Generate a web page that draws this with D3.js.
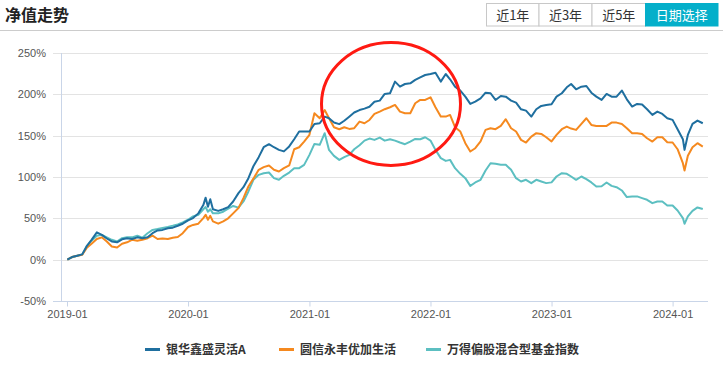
<!DOCTYPE html>
<html><head><meta charset="utf-8">
<script src="https://cdn.jsdelivr.net/npm/d3@7/dist/d3.min.js"></script>
<style>
html,body{margin:0;padding:0;background:#fff;}
svg{display:block;}
</style></head>
<body>
<svg id="chart" width="723" height="365"></svg>
<script>
const dates = ["2019-01-02","2019-01-16","2019-02-01","2019-02-16","2019-03-01","2019-03-16","2019-04-01","2019-04-16","2019-05-01","2019-05-16","2019-06-01","2019-06-16","2019-07-01","2019-07-16","2019-08-01","2019-08-16","2019-09-01","2019-09-16","2019-10-01","2019-10-16","2019-11-01","2019-11-16","2019-12-01","2019-12-16",
"2020-01-01","2020-01-16","2020-02-01","2020-02-16","2020-02-23","2020-03-01","2020-03-08","2020-03-16","2020-04-01","2020-04-16","2020-05-01","2020-05-16","2020-06-01","2020-06-16","2020-07-01","2020-07-16","2020-08-01","2020-08-16","2020-09-01","2020-09-16","2020-10-01","2020-10-16","2020-11-01","2020-11-16","2020-12-01","2020-12-16",
"2021-01-01","2021-01-16","2021-02-01","2021-02-16","2021-03-01","2021-03-16","2021-04-01","2021-04-16","2021-05-01","2021-05-16","2021-06-01","2021-06-16","2021-07-01","2021-07-16","2021-08-01","2021-08-16","2021-09-01","2021-09-16","2021-10-01","2021-10-16","2021-11-01","2021-11-16","2021-12-01","2021-12-16",
"2022-01-01","2022-01-16","2022-02-01","2022-02-16","2022-03-01","2022-03-16","2022-04-01","2022-04-16","2022-05-01","2022-05-16","2022-06-01","2022-06-16","2022-07-01","2022-07-16","2022-08-01","2022-08-16","2022-09-01","2022-09-16","2022-10-01","2022-10-16","2022-11-01","2022-11-16","2022-12-01","2022-12-16",
"2023-01-01","2023-01-16","2023-02-01","2023-02-16","2023-03-01","2023-03-16","2023-04-01","2023-04-16","2023-05-01","2023-05-16","2023-06-01","2023-06-16","2023-07-01","2023-07-16","2023-08-01","2023-08-16","2023-09-01","2023-09-16","2023-10-01","2023-10-16","2023-11-01","2023-11-16","2023-12-01","2023-12-16",
"2024-01-01","2024-01-16","2024-02-01","2024-02-06","2024-02-16","2024-03-01","2024-03-16","2024-04-01"];

const fundA = [0,3.2,4.8,6.4,16,24,33,30,25.6,22,21,24.6,26,25,27,26,27,32,35.3,36,38,38.7,41,43.5,
47.5,50.3,56,66,75,64,73,61,59,61,63.6,70.4,80.5,87.7,98.6,113,124,136,139.7,136,132.8,131,137,145.7,155,155,
155,164.2,165,173,171,166,164,168,173,178,181,182.7,185,191,192.4,200.5,201.3,215.4,209.3,212.5,213.3,217.4,220.6,223.4,
224.6,226.2,215.4,224.6,218.2,209.3,204.5,197.2,188.4,191.2,195.2,202,201.3,193.2,198,197.2,192.4,190,181.9,180.3,173.1,181.9,186,187.2,
188,197.2,201.3,208.5,212.5,206.1,209.3,210.1,202,197.2,193.2,200.5,197.2,197.2,204.5,194,185.2,188.4,187.6,181.9,175.1,179.1,176.3,171.1,
169.1,157.8,145.7,132.8,150.9,164.2,168.2,165];

const fundB = [0,3.2,4.8,6,14,19.3,25,27,22,16,14.8,19.3,21,24,23,24,26,29,25,25.6,25,26.6,27.4,32,
39.5,42,43.5,50.3,54.3,48.3,53,46.3,43.5,46.3,50,56,62.4,74.4,88.5,98,108.7,111.9,114,108.7,106.7,110.7,114,133.6,136,142.9,
151,177.1,171,181,171,160.2,157.8,160.2,158.2,159,167,165,169,176.3,179.1,182,184.4,187.2,179.1,177.1,177.1,189.2,193.2,193.2,
196.4,184.4,173.1,173.1,175.1,160.2,155,140.9,130.8,134.8,143,157,159,157.8,161.8,169.9,159,155,144.9,141.7,148.9,153,152.1,148.1,
143,150.9,157.8,161,158.6,157,164.2,171.1,163,161.8,161.8,161.8,165.8,165.8,164.2,159,153,153,152.1,146.9,142.9,148.1,148.1,142.1,
141.7,133.6,116.7,107.9,125.6,136,140.9,136.8];

const indexC = [0,3,4.8,6.4,16,23,29,30,27,24,22,26,27,27,29,26.6,32,36,37,38.4,39.5,41,42.7,45,
48.3,52.3,54.3,61,63.6,58,61,56,56,58,61.6,65,63,70.4,82.5,96.6,102.6,104.6,105.4,98.6,96.6,101.4,105.4,110.7,110.7,114.7,
126.8,140,138.9,153,132.8,125.6,120.7,124,126.8,133.6,138.5,144,146.5,144.9,147.7,144,145.7,144,141.7,139.7,142.9,146.1,145.7,148.1,
144.1,132.8,122.8,119.5,120.7,110.7,103.8,98.6,89.3,93.4,96.6,107.9,116.7,115.9,114.7,114.7,108.7,98.6,94.6,96.6,92.6,96.6,94.6,92.6,
93.5,100.6,104.6,103.8,100.6,96.6,100.6,97.4,93.4,88.5,88.9,93.4,89.3,87.7,83.7,75.7,76.5,76.5,74.4,72.4,68.4,70.4,70.4,65.6,
65.6,59.5,50.3,43.4,52.3,59.1,63.2,61.2];

const seriesNames = ["银华鑫盛灵活A","圆信永丰优加生活","万得偏股混合型基金指数"];
const seriesColors = ["#1f6f9f","#f5891f","#5cbfc1"];
const yTicks = [-50,0,50,100,150,200,250];
const xTickLabels = ["2019-01","2020-01","2021-01","2022-01","2023-01","2024-01"];
const buttons = ["近1年","近3年","近5年","日期选择"];

const parse = d3.timeParse("%Y-%m-%d");
const parseM = d3.timeParse("%Y-%m");
const svg = d3.select("#chart");
const font = "'Liberation Sans', Arial, 'Noto Sans CJK SC', sans-serif";

// header
svg.append("text").attr("x",5).attr("y",21).text("净值走势")
  .attr("font-family","'Noto Sans CJK SC', sans-serif").attr("font-size",16).attr("font-weight","bold").attr("fill","#222");
const bx = d3.scaleOrdinal().domain(buttons).range([486.5,539,592,645.5]);
const bw = [52.5,53,53.5,72.5];
buttons.forEach((b,i)=>{
  const active = i===buttons.length-1;
  svg.append("rect").attr("x",bx(b)).attr("y",3.5).attr("width",bw[i]).attr("height",22.5)
    .attr("fill",active?"#04afca":"#fff").attr("stroke",active?"#04afca":"#c8c8c8").attr("stroke-width",1);
  svg.append("text").attr("x",bx(b)+bw[i]/2).attr("y",20).attr("text-anchor","middle")
    .attr("font-family","'Noto Sans CJK SC', sans-serif").attr("font-size",13)
    .attr("fill",active?"#fff":"#333").text(b);
});
svg.append("line").attr("x1",0).attr("x2",723).attr("y1",30.5).attr("y2",30.5).attr("stroke","#cccccc").attr("stroke-width",1);

// scales
const x = d3.scaleTime().domain([parse("2019-01-01"),parse("2024-01-01")]).range([67,672.6]);
const y = d3.scaleLinear().domain([-50,250]).range([301,53]);
const left = 61, right = 708;

// grid
svg.append("g").selectAll("line").data(yTicks).join("line")
  .attr("x1",53).attr("x2",right).attr("y1",d=>Math.round(y(d))+0.5).attr("y2",d=>Math.round(y(d))+0.5)
  .attr("stroke",d=>d===-50?"#c9d5e8":"#e3e3e3").attr("stroke-width",1);
svg.append("line").attr("x1",left+0.5).attr("x2",left+0.5).attr("y1",53).attr("y2",301.5).attr("stroke","#c9d5e8");

// y labels
svg.append("g").selectAll("text").data(yTicks).join("text")
  .attr("x",46).attr("y",d=>y(d)+4).attr("text-anchor","end")
  .attr("font-family",font).attr("font-size",11).attr("fill","#555").text(d=>d+"%");

// x axis
const xAxis = d3.axisBottom(x).tickValues(xTickLabels.map(parseM)).tickFormat(d3.timeFormat("%Y-%m")).tickSize(5).tickPadding(4);
const gx = svg.append("g").attr("transform","translate(0,301.5)").call(xAxis);
gx.select(".domain").remove();
gx.selectAll(".tick line").attr("stroke","#c9d5e8");
gx.selectAll(".tick text").attr("font-family",font).attr("font-size",11).attr("fill","#555");

// lines
const seriesVals = [fundA, fundB, indexC];
const line = d3.line().x((d,i)=>x(parse(dates[i]))).y(d=>y(d));
[2,1,0].forEach(k=>{
  svg.append("path").datum(seriesVals[k]).attr("d",line).attr("fill","none")
    .attr("stroke",seriesColors[k]).attr("stroke-width",2).attr("stroke-linejoin","round");
});

// annotation circle
svg.append("ellipse").attr("cx",391).attr("cy",104).attr("rx",69.5).attr("ry",61.5)
  .attr("fill","none").attr("stroke","#ff1a12").attr("stroke-width",3);

// legend
const lx = [145,279,426];
seriesNames.forEach((n,i)=>{
  svg.append("line").attr("x1",lx[i]).attr("x2",lx[i]+15).attr("y1",349.5).attr("y2",349.5)
    .attr("stroke",seriesColors[i]).attr("stroke-width",3);
  svg.append("text").attr("x",lx[i]+21).attr("y",354).attr("font-family","'Noto Sans CJK SC', sans-serif")
    .attr("font-size",12).attr("font-weight","bold").attr("fill","#333").text(n);
});
</script>
</body></html>
